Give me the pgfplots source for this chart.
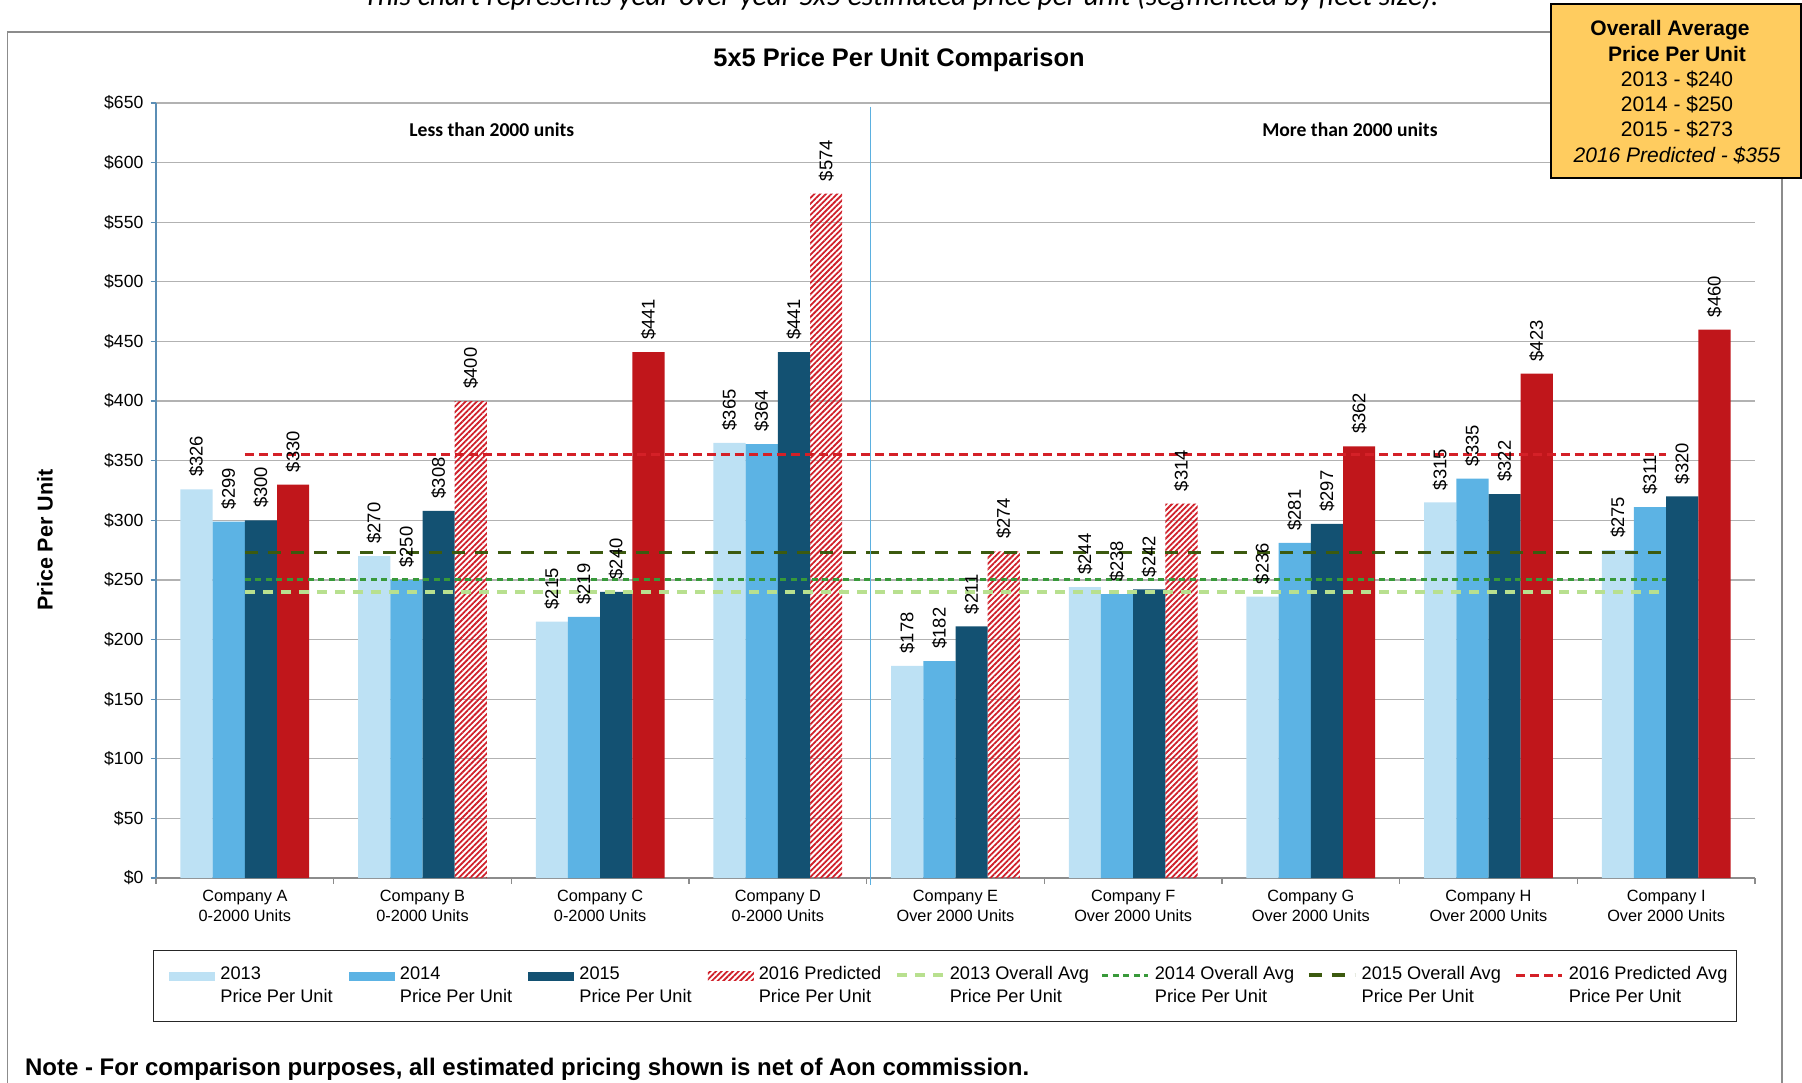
\documentclass[border=0pt]{standalone}
\usepackage{fontspec}
\setmainfont{Liberation Sans}
\newfontfamily\calibri{Carlito}
\usepackage{graphicx}
\usepackage{pgfplots}
\pgfplotsset{compat=1.18}
\usetikzlibrary{patterns.meta}

\definecolor{c13}{HTML}{BDE1F4}
\definecolor{c14}{HTML}{5CB3E4}
\definecolor{c15}{HTML}{135172}
\definecolor{c16}{HTML}{C0161B}
\definecolor{h16}{HTML}{D0202A}
\definecolor{a13}{HTML}{B8E08F}
\definecolor{a14}{HTML}{38993A}
\definecolor{a15}{HTML}{3C5A0F}
\definecolor{a16}{HTML}{D42027}
\definecolor{boxy}{HTML}{FFCC5F}
\definecolor{sepb}{HTML}{5BB0E0}
\definecolor{yax}{HTML}{5B8EB5}

\pgfplotsset{
  barleg/.style={legend image code/.code={\path[##1,draw=none] (0pt,2.6pt) rectangle (23pt,7.2pt);}},
  lineleg/.style={legend image code/.code={\draw[##1] (0pt,5.5pt) -- (23pt,5.5pt);}},
  lbl/.style={nodes near coords={\rotatebox{90}{\$\pgfmathprintnumber[fixed,precision=0]{\pgfplotspointmeta}}},
    nodes near coords style={anchor=south, inner ysep=6pt, inner xsep=0pt, xshift=#1, font=\fontsize{9.2}{10}\selectfont, text=black}},
}

\begin{document}
\begin{tikzpicture}
\path[use as bounding box] (0,0) rectangle (901pt,541pt);
\draw[color=black!45, line width=0.75pt] (3.75pt,-5pt) rectangle (891pt,525pt);
\node[anchor=base, font=\calibri\itshape\fontsize{14.7}{17}\selectfont] at (450.5pt,538.2pt) {This chart represents year-over-year 5x5 estimated price per unit (segmented by fleet size).};
\begin{axis}[
  at={(78pt,102pt)}, anchor=south west,
  scale only axis, width=799.5pt, height=387.5pt,
  xmin=-0.5, xmax=8.5, ymin=0, ymax=650,
  clip=false,
  axis lines*=left,
  x axis line style={color=black!45, line width=0.6pt},
  y axis line style={color=yax, line width=0.6pt},
  ymajorgrids,
  major grid style={color=black!30, line width=0.6pt},
  xtick={0,...,8},
  xticklabels={{Company A\\0-2000 Units},{Company B\\0-2000 Units},{Company C\\0-2000 Units},{Company D\\0-2000 Units},{Company E\\Over 2000 Units},{Company F\\Over 2000 Units},{Company G\\Over 2000 Units},{Company H\\Over 2000 Units},{Company I\\Over 2000 Units}},
  minor xtick={-0.5,0.5,...,8.5},
  ytick={0,50,...,650},
  minor ytick={0,50,...,650},
  major tick length=0pt, minor tick length=2.75pt, tick align=outside,
  xtick style={color=black!45, line width=0.6pt},
  ytick style={color=yax, line width=0.6pt},
  /pgf/number format/assume math mode=true,
  yticklabel={\$\pgfmathprintnumber{\tick}},
  y tick label style={font=\fontsize{8.8}{10}\selectfont, xshift=-2.8pt},
  x tick label style={align=center, font=\fontsize{8.15}{10}\selectfont, yshift=-2.6pt},
  ylabel={Price Per Unit},
  ylabel style={font=\bfseries\fontsize{10.75}{12}\selectfont, at={(axis description cs:-0.0694,0.436)}, anchor=center},
  legend columns=8,
  legend cell align=left,
  legend style={at={(-0.0019,-0.0929)}, anchor=north west, draw=black!85, line width=0.5pt,
    font=\fontsize{9.1}{11.6}\selectfont, nodes={align=left, inner sep=2.5pt},
    inner xsep=8pt, inner ysep=5.5pt,
    /tikz/column 2/.style={column sep=5.6pt},
    /tikz/column 4/.style={column sep=5.6pt},
    /tikz/column 6/.style={column sep=5.6pt},
    /tikz/column 8/.style={column sep=4.5pt},
    /tikz/column 10/.style={column sep=3.4pt},
    /tikz/column 12/.style={column sep=4pt},
    /tikz/column 14/.style={column sep=4.5pt}},
]
\addplot[ybar, bar width=16.1pt, bar shift=-24.15pt, fill=c13, draw=none, barleg, lbl=-24.15pt]
  coordinates {(0,326) (1,270) (2,215) (3,365) (4,178) (5,244) (6,236) (7,315) (8,275)};
\addlegendentry{2013\\Price Per Unit}
\addplot[ybar, bar width=16.1pt, bar shift=-8.05pt, fill=c14, draw=none, barleg, lbl=-8.05pt]
  coordinates {(0,299) (1,250) (2,219) (3,364) (4,182) (5,238) (6,281) (7,335) (8,311)};
\addlegendentry{2014\\Price Per Unit}
\addplot[ybar, bar width=16.1pt, bar shift=8.05pt, fill=c15, draw=none, barleg, lbl=8.05pt]
  coordinates {(0,300) (1,308) (2,240) (3,441) (4,211) (5,242) (6,297) (7,322) (8,320)};
\addlegendentry{2015\\Price Per Unit}
\addplot[ybar, bar width=16.1pt, bar shift=24.15pt, draw=none, pattern={Lines[angle=45,distance=2pt,line width=0.9pt]}, pattern color=h16, barleg, lbl=24.15pt]
  coordinates {(1,400) (3,574) (4,274) (5,314)};
\addlegendentry{2016 Predicted\\Price Per Unit}
\addplot[ybar, bar width=16.1pt, bar shift=24.15pt, fill=c16, draw=none, lbl=24.15pt, forget plot]
  coordinates {(0,330) (2,441) (6,362) (7,423) (8,460)};
\addplot[sharp plot, color=a13, line width=1.75pt, dash pattern=on 5pt off 4pt, lineleg]
  coordinates {(0,240) (1,240) (2,240) (3,240) (4,240) (5,240) (6,240) (7,240) (8,240)};
\addlegendentry{2013 Overall Avg\\Price Per Unit}
\addplot[sharp plot, color=a14, line width=1.5pt, dash pattern=on 3pt off 2.25pt, lineleg]
  coordinates {(0,250) (1,250) (2,250) (3,250) (4,250) (5,250) (6,250) (7,250) (8,250)};
\addlegendentry{2014 Overall Avg\\Price Per Unit}
\addplot[sharp plot, color=a15, line width=1.75pt, dash pattern=on 6.5pt off 5pt, lineleg]
  coordinates {(0,273) (1,273) (2,273) (3,273) (4,273) (5,273) (6,273) (7,273) (8,273)};
\addlegendentry{2015 Overall Avg\\Price Per Unit}
\addplot[sharp plot, color=a16, line width=1.5pt, dash pattern=on 4.5pt off 2.5pt, lineleg]
  coordinates {(0,355) (1,355) (2,355) (3,355) (4,355) (5,355) (6,355) (7,355) (8,355)};
\addlegendentry{2016 Predicted Avg\hspace*{-6pt}\\Price Per Unit}
\draw[sepb, line width=0.6pt] (axis cs:3.52,647) -- (axis cs:3.52,-6);
\node[font=\calibri\bfseries\fontsize{9.8}{11}\selectfont] at (axis cs:1.39,627.4) {Less than 2000 units};
\node[font=\calibri\bfseries\fontsize{9.8}{11}\selectfont] at (axis cs:6.22,627.4) {More than 2000 units};
\end{axis}
\node[font=\bfseries\fontsize{12.7}{14}\selectfont] at (449.5pt,511.1pt) {5x5 Price Per Unit Comparison};
\node[anchor=west, font=\bfseries\fontsize{12}{14}\selectfont] at (9pt,6.5pt) {Note - For comparison purposes, all estimated pricing shown is net of Aon commission.};
\draw[fill=boxy, draw=black, line width=1pt] (775.5pt,539pt) rectangle (900.5pt,452pt);
\begin{scope}[every node/.style={font=\fontsize{10.5}{12}\selectfont}]
\node[font=\bfseries\fontsize{10.5}{12}\selectfont] at (835pt,526pt) {Overall Average};
\node[font=\bfseries\fontsize{10.5}{12}\selectfont] at (838.5pt,514pt) {Price Per Unit};
\node at (838.5pt,501.5pt) {2013 - \$240};
\node at (838.5pt,489pt) {2014 - \$250};
\node at (838.5pt,476.5pt) {2015 - \$273};
\node[font=\itshape\fontsize{10.5}{12}\selectfont] at (838.5pt,463.5pt) {2016 Predicted - \$355};
\end{scope}
\end{tikzpicture}
\end{document}
